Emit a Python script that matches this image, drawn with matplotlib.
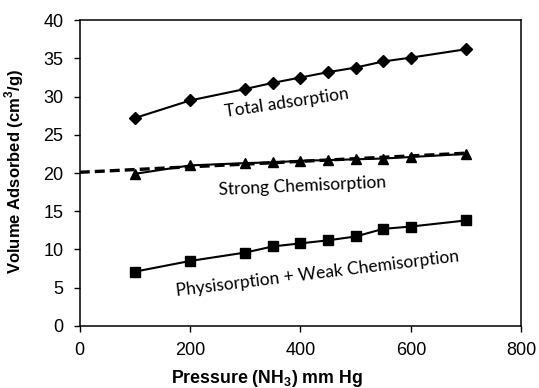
import numpy as np
import matplotlib.pyplot as plt

pressure = [100, 200, 300, 350, 400, 450, 500, 550, 600, 700]
total = [27.2, 29.5, 31.0, 31.8, 32.5, 33.2, 33.8, 34.6, 35.1, 36.2]
strong = [19.9, 21.0, 21.3, 21.4, 21.6, 21.7, 21.8, 21.9, 22.1, 22.5]
physi = [7.1, 8.5, 9.6, 10.4, 10.8, 11.2, 11.7, 12.7, 13.0, 13.8]
trend_x = [0, 700]
trend_y = [20.1, 22.6]

fig = plt.figure(figsize=(5.39, 3.88), dpi=100)
ax = fig.add_axes([0.148, 0.160, 0.819, 0.788])

ax.plot(pressure, total, color='black', lw=1.5, marker='D', ms=6)
ax.plot(pressure, strong, color='black', lw=1.5, marker='^', ms=7.5)
ax.plot(trend_x, trend_y, color='black', lw=2.4, ls=(0, (3, 1.5)))
ax.plot(pressure, physi, color='black', lw=1.5, marker='s', ms=7)

lbl = dict(family='Lato', fontsize=12.5, ha='center', va='center',
           rotation_mode='anchor')
ax.text(376, 29.2, 'Total adsorption', rotation=8.5, **lbl)
ax.text(403, 18.3, 'Strong Chemisorption', rotation=2.6, **lbl)
ax.text(430, 6.8, 'Physisorption + Weak Chemisorption', rotation=7, **lbl)

ax.set_xlim(0, 800)
ax.set_ylim(0, 40)
ax.set_xticks(np.arange(0, 801, 200))
ax.set_yticks(np.arange(0, 41, 5))
ax.tick_params(direction='out', length=4.3, width=1, labelsize=13, pad=7.5)
for lab in ax.get_xticklabels() + ax.get_yticklabels():
    lab.set_family('Liberation Sans')
for s in ax.spines.values():
    s.set_linewidth(1.1)

ax.set_xlabel('Pressure (NH$_\\mathregular{3}$) mm Hg', family='Liberation Sans',
              fontsize=12.8, fontweight='bold')
ax.set_ylabel('Volume Adsorbed (cm$^\\mathregular{3}$/g)', family='Liberation Sans',
              fontsize=12, fontweight='bold')
ax.xaxis.set_label_coords(0.425, -0.137)
ax.yaxis.set_label_coords(-0.122, 0.505)

fig.savefig('out.png', dpi=100)
